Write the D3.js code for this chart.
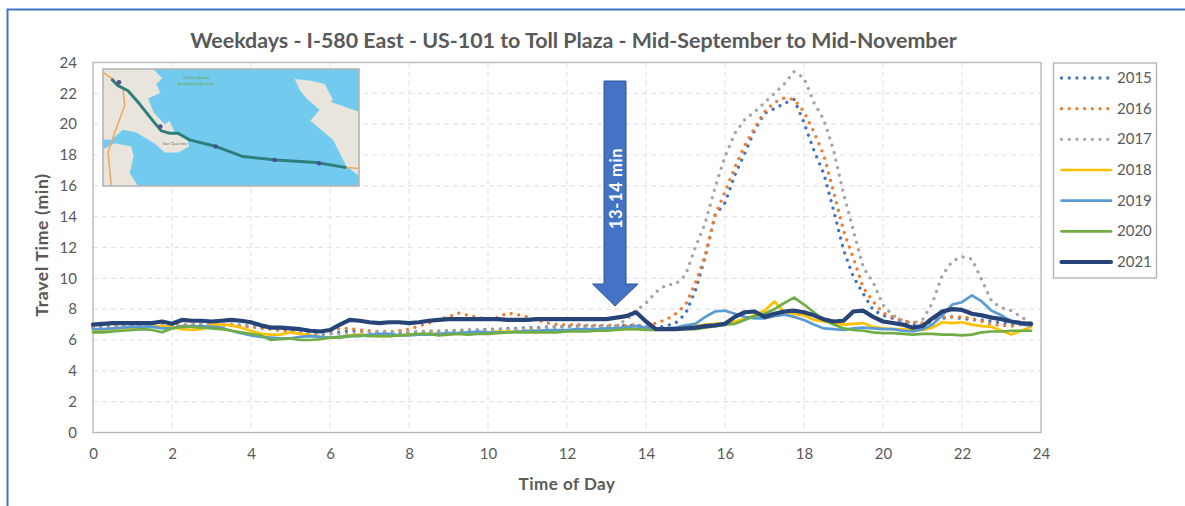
<!DOCTYPE html>
<html><head><meta charset="utf-8">
<script src="https://cdn.jsdelivr.net/npm/d3@7"></script>
<style>html,body{margin:0;padding:0;background:#fff}svg{display:block}text{font-family:Lato,"Open Sans",sans-serif}</style>
</head><body><svg id="c" width="1185" height="506"></svg>
<script>
const titleText="Weekdays - I-580 East - US-101 to Toll Plaza - Mid-September to Mid-November";
const xTicks=d3.range(0,25,2), yTicks=d3.range(0,25,2);
const years=["2015","2016","2017","2018","2019","2020","2021"];
const colors=["#4472C4","#ED7D31","#A5A5A5","#FFC000","#5B9BD5","#70AD47","#264478"];
// one row per hour, four quarter-hour readings
const v2015=[6.8,6.8,6.85,6.85, 6.9,6.9,6.95,6.95, 6.9,6.95,7,7, 7,6.95,7,6.95, 6.9,6.8,6.75,6.7, 6.6,6.5,6.4,6.35,
 6.4,6.5,6.6,6.6, 6.55,6.5,6.45,6.45, 6.5,6.5,6.55,6.55, 6.6,6.6,6.65,6.65, 6.7,6.7,6.75,6.75, 6.8,6.8,6.85,6.85,
 6.9,6.9,6.9,6.9, 6.9,6.9,6.95,6.95, 6.85,6.8,6.9,7.1, 7.7,9.2,11.4,14.1, 14.9,16.7,18.1,19.6, 20.7,21,21.35,21.6,
 20.1,18.3,16.8,14.4, 11.85,10.1,9,7.95, 7.6,7.4,7.2,7, 7,7.2,7.4,7.5, 7.4,7.3,7.3,7.2, 7.1,7,7,7];
const v2016=[6.9,6.9,6.9,6.9, 6.95,6.95,6.95,7, 6.95,7,7,7.05, 7.05,7,7,6.95, 6.85,6.75,6.7,6.6, 6.55,6.5,6.45,6.45,
 6.55,6.75,6.75,6.65, 6.6,6.55,6.55,6.6, 6.7,6.9,7.1,7.35, 7.5,7.75,7.6,7.45, 7.4,7.45,7.75,7.65, 7.5,7.3,7.1,7,
 7,7,6.95,6.95, 6.95,6.95,6.95,7, 6.8,7.1,7.3,7.7, 8.27,9.7,11.5,14.1, 15.6,17.2,18.6,19.75, 20.8,21.4,21.7,21.6,
 20.8,19.5,18,15.6, 13.1,11.3,9.4,8.5, 7.75,7.5,7.25,7.15, 7.1,7.4,7.5,7.5, 7.5,7.4,7.2,7, 6.95,6.9,7,7];
const v2017=[6.8,6.8,6.85,6.85, 6.9,6.9,6.95,6.95, 6.9,6.9,6.95,7, 7,6.95,6.95,7, 6.95,6.9,6.85,6.8, 6.75,6.6,6.5,6.45,
 6.4,6.4,6.4,6.45, 6.5,6.5,6.5,6.55, 6.55,6.55,6.6,6.6, 6.6,6.65,6.65,6.65, 6.65,6.7,6.7,6.7, 6.75,6.75,6.8,6.8,
 6.85,6.85,6.85,6.85, 6.85,6.95,7.3,7.9, 8.4,9.1,9.56,9.63, 10.2,12,13.6,15.9, 17.9,19.4,20.3,20.8, 21.4,22,22.6,23.4,
 23,21.4,20.3,18.3, 15.5,13.1,10.7,9.75, 8.27,7.6,7.25,7.1, 7.3,8.4,10.2,11.1, 11.4,11.25,9.9,8.5, 8.1,7.9,7.5,7.1];
const v2018=[6.6,6.65,6.7,6.75, 6.8,6.8,6.85,6.9, 6.85,6.7,6.65,6.7, 7,7,6.95,6.8, 6.6,6.4,6.35,6.35, 6.5,6.4,6.3,6.2,
 6.15,6.2,6.3,6.35, 6.3,6.25,6.25,6.3, 6.35,6.35,6.4,6.4, 6.4,6.45,6.5,6.5, 6.5,6.55,6.55,6.55, 6.6,6.6,6.6,6.6,
 6.6,6.65,6.65,6.65, 6.7,6.7,6.7,6.7, 6.7,6.7,6.75,6.75, 6.85,6.9,7,7.05, 7.1,7.2,7.4,7.6, 7.9,8.5,7.8,7.7,
 7.6,7.3,7.2,7.1, 7,7.05,7.1,6.85, 6.75,6.7,6.7,6.65, 6.65,6.8,7.15,7.1, 7.15,7,6.9,6.85, 6.6,6.35,6.6,6.85];
const v2019=[6.7,6.7,6.75,6.8, 6.85,6.85,6.85,6.75, 6.75,6.9,6.9,6.9, 6.85,6.8,6.6,6.45, 6.3,6.2,6.15,6.1, 6.1,6.2,6.25,6.2,
 6.15,6.2,6.25,6.25, 6.35,6.4,6.4,6.3, 6.3,6.35,6.35,6.4, 6.45,6.45,6.5,6.55, 6.5,6.5,6.5,6.55, 6.6,6.6,6.65,6.65,
 6.65,6.7,6.7,6.7, 6.75,6.75,6.85,6.9, 6.8,6.75,6.75,6.8, 6.95,7.05,7.5,7.85, 7.9,7.7,7.5,7.4, 7.4,7.55,7.65,7.5,
 7.3,7,6.75,6.7, 6.65,6.75,6.8,6.75, 6.7,6.7,6.6,6.55, 6.7,7,7.6,8.3, 8.45,8.9,8.5,7.9, 7.6,7.2,7,6.95];
const v2020=[6.5,6.5,6.55,6.6, 6.65,6.7,6.65,6.5, 6.75,6.85,6.85,6.8, 6.75,6.7,6.6,6.5, 6.4,6.3,6,6.05, 6.1,6,6,6.05,
 6.15,6.15,6.25,6.3, 6.25,6.25,6.25,6.3, 6.35,6.4,6.4,6.3, 6.35,6.4,6.35,6.4, 6.4,6.45,6.5,6.5, 6.5,6.5,6.5,6.5,
 6.55,6.55,6.55,6.6, 6.6,6.65,6.7,6.7, 6.65,6.65,6.7,6.7, 6.7,6.7,6.8,6.9, 7,7.05,7.3,7.55, 7.7,8,8.4,8.75,
 8.3,7.8,7.3,7, 6.75,6.65,6.6,6.5, 6.45,6.45,6.4,6.35, 6.4,6.4,6.35,6.35, 6.3,6.35,6.5,6.55, 6.55,6.6,6.6,6.6];
const v2021=[7,7.05,7.1,7.1, 7.1,7.1,7.1,7.2, 7.05,7.3,7.25,7.25, 7.2,7.25,7.3,7.25, 7.15,6.95,6.8,6.8, 6.75,6.7,6.6,6.55,
 6.65,7,7.3,7.25, 7.15,7.1,7.15,7.15, 7.1,7.15,7.25,7.3, 7.35,7.35,7.35,7.35, 7.35,7.35,7.3,7.3, 7.3,7.35,7.35,7.35,
 7.35,7.35,7.35,7.35, 7.35,7.45,7.55,7.8, 7.2,6.7,6.7,6.7, 6.75,6.8,6.9,6.95, 7.05,7.5,7.8,7.85, 7.5,7.7,7.85,7.9,
 7.8,7.6,7.35,7.2, 7.25,7.85,7.9,7.5, 7.2,7.1,7,6.8, 6.9,7.4,7.85,8, 7.95,7.7,7.6,7.45, 7.35,7.2,7.1,7.05];
const valueRows=[v2015,v2016,v2017,v2018,v2019,v2020,v2021];
const mapLandA=[[0,0],[150,0],[178,28],[160,45],[172,72],[135,88],[152,130],[185,165],[200,155],[215,190],[252,205],[258,232],[225,250],[185,250],[158,225],[100,190],[60,182],[25,212],[0,212]];
const mapLandB=[[0,240],[35,222],[85,232],[92,262],[80,310],[105,350],[0,350]];
const mapLandC=[[575,30],[625,35],[665,45],[690,92],[682,98],[768,128],[768,320],[730,290],[690,212],[622,155],[650,122],[612,90],[590,62]];
const mapRoute=[[25,30],[45,50],[75,65],[110,105],[150,155],[175,185],[200,192],[225,192],[260,212],[340,232],[420,262],[520,272],[640,280],[730,295]];
const mapRoad=[[0,10],[30,30],[60,60],[65,110],[35,190],[15,250],[25,350]];
const mapRoad2=[[730,295],[768,298]];
const mapShields=[[48,40],[172,172],[338,232],[515,272],[648,282]];

const svg=d3.select("#c");
const m={l:93,r:1041,t:62.5,b:432.5};
const x=d3.scaleLinear().domain([0,24]).range([m.l,m.r]);
const y=d3.scaleLinear().domain([0,24]).range([m.b,m.t]);
const grey="#595959";
const defs=svg.append("defs");
defs.append("filter").attr("id","soft").append("feGaussianBlur").attr("stdDeviation",0.55);
svg.append("path").attr("d","M7.5,506V9.5H1185").attr("fill","none").attr("stroke","#4472C4").attr("stroke-width",2);
svg.append("g").selectAll("line").data(yTicks.slice(1,-1)).join("line")
 .attr("x1",m.l).attr("x2",m.r).attr("y1",d=>y(d)).attr("y2",d=>y(d))
 .attr("stroke","#e4e4e4").attr("stroke-width",1.2).attr("stroke-dasharray","5 4");
svg.append("g").selectAll("line").data(xTicks.slice(1,-1)).join("line")
 .attr("y1",m.t).attr("y2",m.b).attr("x1",d=>x(d)).attr("x2",d=>x(d))
 .attr("stroke","#e4e4e4").attr("stroke-width",1.2).attr("stroke-dasharray","5 4");
svg.append("rect").attr("x",m.l).attr("y",m.t).attr("width",m.r-m.l).attr("height",m.b-m.t).attr("fill","none").attr("stroke","#b5b5b5").attr("stroke-width",1.3);
const ax=svg.append("g").attr("transform",`translate(0,${m.b})`).call(d3.axisBottom(x).tickValues(xTicks).tickSize(0).tickPadding(16));
const ay=svg.append("g").attr("transform",`translate(${m.l},0)`).call(d3.axisLeft(y).tickValues(yTicks).tickSize(0).tickPadding(16));
[ax,ay].forEach(a=>{a.select(".domain").remove();a.selectAll("text").attr("fill",grey).style("font-size","15px").style("font-family","Lato")});
// inset map
const mx=d3.scaleLinear().domain([0,768]).range([103,359]);
const my=d3.scaleLinear().domain([0,350]).range([69,186]);
const mapPoly=d3.line().x(d=>mx(d[0])).y(d=>my(d[1]));
defs.append("clipPath").attr("id","mapclip").append("rect").attr("x",mx(0)).attr("y",my(0)).attr("width",mx(768)-mx(0)).attr("height",my(350)-my(0));
const mg=svg.append("g");
mg.append("rect").attr("x",mx(0)).attr("y",my(0)).attr("width",mx(768)-mx(0)).attr("height",my(350)-my(0)).attr("fill","#72CBEF");
const mi=mg.append("g").attr("clip-path","url(#mapclip)").append("g").attr("filter","url(#soft)");
[mapLandA,mapLandB,mapLandC].forEach(p=>mi.append("path").attr("d",mapPoly(p)+"Z").attr("fill","#E9E5DC"));
mi.append("path").attr("d",mapPoly(mapRoad)).attr("fill","none").attr("stroke","#F4A65A").attr("stroke-width",1.5);
mi.append("path").attr("d",mapPoly(mapRoad2)).attr("fill","none").attr("stroke","#F4A65A").attr("stroke-width",1.5);
mi.append("path").attr("d",mapPoly(mapRoute)).attr("fill","none").attr("stroke","#2E7F7C").attr("stroke-width",3).attr("stroke-linejoin","round");
mi.selectAll("circle").data(mapShields).join("circle").attr("cx",d=>mx(d[0])).attr("cy",d=>my(d[1])).attr("r",2.3).attr("fill","#4A4F9A");
mg.append("text").attr("x",mx(280)).attr("y",my(30)).attr("text-anchor","middle").attr("fill","#6f9a3a").style("font-size","4.5px").text("Marin Islands");
mg.append("text").attr("x",mx(280)).attr("y",my(48)).attr("text-anchor","middle").attr("fill","#6f9a3a").style("font-size","4.5px").text("Ecological Reserve");
mg.append("text").attr("x",mx(215)).attr("y",my(226)).attr("text-anchor","middle").attr("fill","#777").style("font-size","4.5px").text("San Quentin");
mg.append("rect").attr("x",mx(0)).attr("y",my(0)).attr("width",mx(768)-mx(0)).attr("height",my(350)-my(0)).attr("fill","none").attr("stroke","#b5b5b5").attr("stroke-width",1.6);
// arrow
const arrowPts=[[604,81],[626,81],[626,284],[638,284],[615,306],[592.5,284],[604,284]];
svg.append("path").attr("d",d3.line()(arrowPts)+"Z").attr("fill","#4472C4").attr("stroke","#2F5597").attr("stroke-width",1);
svg.append("text").attr("transform","translate(622,188.5) rotate(-90)").attr("text-anchor","middle").attr("fill","#fff").attr("font-weight",700).style("font-size","16.5px").style("letter-spacing","0.6px").text("13-14 min");
// series
const line=d3.line().x((d,i)=>x(i/4)).y(d=>y(d));
const styles=years.map((yr,i)=>i<3?{w:3.3,dash:"0.01 7.7"}:{w:i===6?4.2:2.7,dash:null});
svg.append("g").selectAll("path").data(valueRows).join("path")
 .attr("d",d=>line(d)).attr("fill","none").attr("stroke",(d,i)=>colors[i])
 .attr("stroke-width",(d,i)=>styles[i].w).attr("stroke-dasharray",(d,i)=>styles[i].dash)
 .attr("stroke-linecap","round").attr("stroke-linejoin","round");
// legend
svg.append("rect").attr("x",1053.5).attr("y",63).attr("width",103).attr("height",215).attr("fill","#fff").attr("stroke","#b0b0b0").attr("stroke-width",1.3);
const ly=d3.scalePoint().domain(years).range([78,262]);
const lg=svg.append("g").selectAll("g").data(years).join("g").attr("transform",d=>`translate(0,${ly(d)})`);
lg.append("line").attr("x1",1061.5).attr("x2",1111).attr("stroke",(d,i)=>colors[i]).attr("stroke-width",(d,i)=>styles[i].w).attr("stroke-dasharray",(d,i)=>styles[i].dash).attr("stroke-linecap","round");
lg.append("text").attr("x",1117).attr("y",5).attr("fill",grey).style("font-size","15px").text(d=>d);
// titles
svg.append("text").attr("x",573.5).attr("y",48).attr("text-anchor","middle").attr("fill",grey).attr("font-weight",700).style("font-size","21.4px").text(titleText);
svg.append("text").attr("x",567).attr("y",490).attr("text-anchor","middle").attr("fill",grey).attr("font-weight",700).style("font-size","17px").style("letter-spacing","0.5px").text("Time of Day");
svg.append("text").attr("transform","translate(48,245) rotate(-90)").attr("text-anchor","middle").attr("fill",grey).attr("font-weight",700).style("font-size","17.5px").style("letter-spacing","0.7px").text("Travel Time (min)");
</script></body></html>
